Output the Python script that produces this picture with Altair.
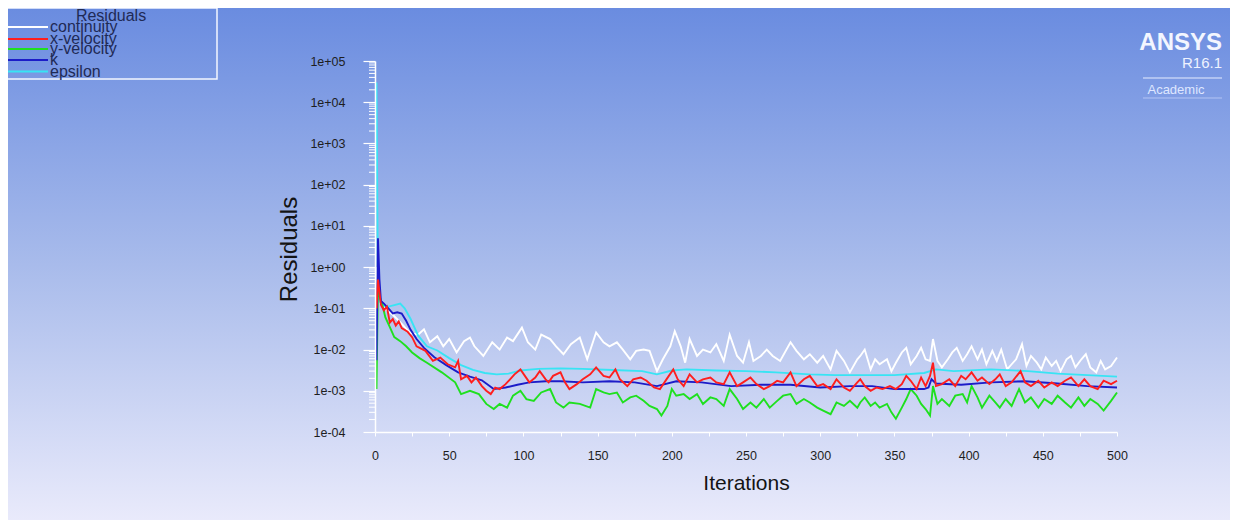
import altair as alt
import pandas as pd

# ---- residual histories: (iteration, residual) ----
continuity = [(1,1.0),(2,0.25),(4,0.12),(8,0.09),(12,0.07),(16,0.05),(20,0.035),(24,0.025),(29,0.023),(33,0.031),(37,0.015),(42,0.021),(46,0.012),(50,0.018),(55,0.0085),(60,0.016),(64,0.0195),(67,0.012),(73,0.0070),(79,0.015),(84,0.010),(89,0.0195),(93,0.016),(99,0.034),(103,0.015),(108,0.010),(112,0.023),(118,0.018),(122,0.012),(127,0.0077),(132,0.0135),(138,0.0195),(143,0.0058),(149,0.026),(154,0.015),(158,0.012),(163,0.015),(167,0.010),(172,0.0058),(176,0.0093),(181,0.010),(185,0.0093),(190,0.0030),(194,0.0058),(199,0.012),(202,0.028),(206,0.012),(209,0.0048),(212,0.018),(217,0.0070),(221,0.010),(226,0.0085),(230,0.0135),(235,0.0053),(239,0.023),(244,0.0070),(248,0.0048),(252,0.015),(255,0.0053),(260,0.0070),(264,0.010),(268,0.0070),(273,0.0053),(280,0.015),(284,0.0093),(289,0.0058),(293,0.0077),(298,0.0048),(302,0.0070),(307,0.0033),(311,0.0093),(316,0.0053),(320,0.0028),(325,0.0058),(327,0.0070),(330,0.010),(334,0.0033),(337,0.0058),(340,0.0044),(345,0.0058),(348,0.0030),(351,0.0048),(355,0.0085),(358,0.011),(361,0.0044),(365,0.0070),(368,0.011),(371,0.0058),(374,0.0053),(376,0.018),(379,0.0053),(382,0.0037),(386,0.0058),(389,0.0085),(392,0.011),(396,0.0053),(399,0.0077),(402,0.012),(406,0.0058),(409,0.010),(412,0.0044),(416,0.0093),(419,0.0053),(422,0.010),(426,0.0033),(429,0.0044),(432,0.0058),(436,0.0135),(439,0.0040),(442,0.0070),(446,0.0048),(449,0.0033),(452,0.0064),(456,0.0040),(459,0.0053),(462,0.0030),(466,0.0058),(469,0.0070),(472,0.0037),(476,0.0058),(479,0.0077),(482,0.0037),(486,0.0028),(489,0.0053),(492,0.0033),(496,0.0040),(500,0.0064)]

x_velocity = [(1,0.1),(2,0.5),(4,0.12),(6,0.09),(8,0.11),(10,0.045),(12,0.055),(14,0.038),(16,0.048),(18,0.033),(22,0.027),(25,0.02),(28,0.012),(34,0.0093),(39,0.0053),(44,0.0064),(49,0.0044),(54,0.0037),(56,0.0053),(58,0.0019),(62,0.0023),(65,0.0016),(68,0.0021),(72,0.0013),(75,0.0010),(78,0.00083),(81,0.0012),(84,0.0011),(88,0.00145),(91,0.0019),(94,0.0025),(98,0.0033),(101,0.0023),(104,0.0016),(108,0.0021),(111,0.0030),(115,0.0019),(117,0.0016),(120,0.0023),(125,0.0028),(128,0.0016),(131,0.0011),(136,0.00145),(140,0.0019),(145,0.0025),(149,0.0037),(154,0.0023),(158,0.0021),(162,0.0033),(165,0.0019),(170,0.0013),(174,0.0019),(179,0.0021),(183,0.00175),(188,0.0012),(192,0.0011),(198,0.0023),(201,0.0033),(204,0.0019),(208,0.0013),(212,0.0025),(217,0.0016),(221,0.0019),(226,0.0021),(230,0.0016),(235,0.00145),(239,0.0028),(244,0.0013),(248,0.0016),(253,0.0021),(257,0.00145),(262,0.0011),(266,0.0013),(271,0.00175),(275,0.0016),(280,0.0028),(284,0.0013),(289,0.0019),(293,0.0023),(298,0.0013),(302,0.00145),(307,0.0011),(311,0.0019),(316,0.0012),(320,0.0010),(325,0.0016),(327,0.0019),(330,0.0013),(334,0.0010),(338,0.0012),(342,0.0011),(347,0.0013),(351,0.0011),(355,0.00145),(358,0.0023),(361,0.00175),(365,0.0011),(368,0.0021),(371,0.0013),(374,0.0023),(376,0.0048),(378,0.0013),(382,0.00145),(387,0.0019),(391,0.0013),(395,0.0023),(398,0.0019),(402,0.0028),(406,0.00175),(409,0.0021),(414,0.00145),(418,0.0019),(421,0.0025),(425,0.0013),(429,0.0016),(435,0.0030),(438,0.0016),(442,0.0013),(447,0.00175),(451,0.0012),(456,0.0016),(460,0.0013),(465,0.00175),(469,0.0021),(474,0.0013),(478,0.0019),(482,0.0013),(487,0.0011),(491,0.00175),(496,0.00145),(500,0.00175)]

y_velocity = [(1,0.0011),(2,0.4),(3,0.2),(5,0.12),(7,0.06),(10,0.035),(13,0.02),(17,0.016),(21,0.012),(25,0.0085),(30,0.0062),(35,0.0048),(45,0.0028),(54,0.0016),(58,0.00083),(64,0.0010),(70,0.00083),(75,0.00048),(80,0.00036),(84,0.00048),(89,0.00039),(93,0.00076),(98,0.0010),(102,0.00063),(107,0.00057),(112,0.00091),(118,0.0011),(122,0.00052),(127,0.00039),(131,0.00052),(138,0.00048),(145,0.00039),(149,0.0011),(154,0.00091),(158,0.00083),(163,0.00091),(167,0.00052),(172,0.00069),(176,0.00076),(181,0.00057),(185,0.00043),(190,0.00036),(193,0.00025),(197,0.00043),(200,0.0011),(203,0.00076),(208,0.00083),(212,0.00063),(217,0.00083),(221,0.00048),(226,0.00069),(230,0.00063),(235,0.00043),(239,0.0011),(244,0.00063),(248,0.00036),(253,0.00052),(257,0.00039),(262,0.00063),(266,0.00039),(271,0.00057),(275,0.00076),(280,0.00083),(284,0.00048),(289,0.00063),(293,0.00052),(298,0.00039),(302,0.00033),(307,0.00027),(311,0.00052),(316,0.00043),(320,0.00057),(325,0.00039),(327,0.00052),(330,0.00069),(334,0.00043),(337,0.00052),(340,0.00039),(345,0.00048),(348,0.00030),(351,0.00021),(355,0.00039),(358,0.00063),(361,0.0011),(365,0.00076),(368,0.00048),(371,0.00036),(374,0.00025),(376,0.0013),(379,0.00048),(382,0.00063),(387,0.00043),(391,0.00076),(396,0.00083),(399,0.00052),(402,0.0013),(406,0.00069),(409,0.00039),(414,0.00076),(418,0.00052),(421,0.00039),(425,0.00063),(429,0.00043),(434,0.0011),(438,0.00052),(442,0.00069),(447,0.00039),(451,0.00063),(456,0.00048),(460,0.00076),(465,0.00052),(469,0.00039),(474,0.00069),(478,0.00043),(482,0.00063),(487,0.00048),(491,0.00033),(496,0.00057),(500,0.00091)]

k_res = [(1,0.0055),(2,5.0),(3,0.5),(4,0.15),(6,0.13),(9,0.10),(12,0.075),(15,0.08),(18,0.075),(21,0.05),(24,0.03),(28,0.018),(33,0.011),(40,0.0065),(48,0.0042),(56,0.0028),(64,0.0022),(72,0.0018),(80,0.0011),(88,0.0012),(96,0.0014),(104,0.0016),(115,0.0017),(125,0.0017),(140,0.0016),(158,0.0017),(175,0.0016),(190,0.0013),(203,0.0017),(220,0.0016),(240,0.0013),(260,0.0014),(280,0.0014),(300,0.0012),(320,0.0013),(335,0.0013),(350,0.0011),(370,0.0011),(373,0.0012),(375,0.0019),(378,0.0015),(395,0.0014),(415,0.0016),(438,0.0017),(460,0.0015),(480,0.0013),(500,0.0012)]

epsilon = [(1,3.0e4),(2,0.2),(3,0.15),(5,0.12),(9,0.11),(13,0.12),(17,0.13),(20,0.10),(24,0.055),(29,0.022),(35,0.012),(42,0.0095),(50,0.0062),(58,0.0042),(66,0.0032),(74,0.0027),(82,0.0025),(90,0.0026),(98,0.0031),(110,0.0034),(125,0.0035),(140,0.0034),(160,0.0032),(180,0.0030),(190,0.0025),(200,0.0031),(210,0.0033),(230,0.0031),(250,0.0030),(270,0.0028),(293,0.0025),(310,0.0024),(334,0.0024),(350,0.0024),(370,0.0027),(378,0.0033),(390,0.0030),(415,0.0033),(440,0.0030),(460,0.0026),(480,0.0024),(500,0.0022)]

series_names = ["continuity", "x-velocity", "y-velocity", "k", "epsilon"]
series_data = [continuity, x_velocity, y_velocity, k_res, epsilon]
series_colors = ["#ffffff", "#ff1e1e", "#1fe01f", "#1c1cc8", "#38e4f4"]
draw_order = [0, 4, 2, 3, 1]

x_ticks = list(range(0, 501, 25))
y_decades = [1e-4, 1e-3, 1e-2, 1e-1, 1e0, 1e1, 1e2, 1e3, 1e4, 1e5]
y_minor = [m * d for d in y_decades[:-1] for m in range(2, 10)]

W, H = 742, 371
PL, PT, PR, PB = 367, 53, 113, 88
FONT = "Liberation Sans"
TXT = "#1f2a55"

xs = alt.Scale(domain=[0, 500], nice=False, zero=False)
ys = alt.Scale(type="log", domain=[1e-4, 1e5], nice=False)

x_axis = alt.Axis(values=x_ticks, labelExpr="datum.value % 50 == 0 ? datum.label : ''",
                  title="Iterations", titleFontSize=21, titleFont=FONT, titleFontWeight="normal",
                  titleColor="#141414", titleX=W / 2, titleY=51, titleBaseline="middle",
                  titleAlign="center", labelFont=FONT, labelFontSize=12.5, labelColor="#1e1e1e",
                  domainColor="white", domainWidth=1.5, tickColor="white", tickSize=4,
                  labelPadding=13, grid=False, labelFlush=False, labelOverlap=False, zindex=2)
y_axis = alt.Axis(values=y_decades,
                  labelExpr="'1e' + (datum.value < 1 ? '-' : '+') + '0' + abs(round(log(datum.value) / LN10))",
                  title="Residuals", titleFontSize=24, titleFont=FONT, titleFontWeight="normal",
                  titleColor="#141414", titleAngle=270, titleX=-86, titleY=188,
                  titleBaseline="middle", titleAlign="center", labelFont=FONT, labelFontSize=12.5,
                  labelColor="#1e1e1e", domainColor="white", domainWidth=1.5, tickColor="white",
                  tickSize=12, tickWidth=1.2, labelPadding=18, grid=False, labelFlush=False,
                  labelOverlap=False, zindex=2)

one = pd.DataFrame({"a": [0]})

bg = alt.Chart(one).mark_rect(
    fill=alt.Gradient(gradient="linear", x1=0, x2=0, y1=0, y2=1,
                      stops=[alt.GradientStop(color="#6a8ce0", offset=0),
                             alt.GradientStop(color="#a8bbeb", offset=0.5),
                             alt.GradientStop(color="#e9eafb", offset=1)])
).encode(x=alt.value(-PL), x2=alt.value(W + PR), y=alt.value(-PT), y2=alt.value(H + PB))

layers = [bg]

minor = alt.Chart(pd.DataFrame({"v": y_minor})).mark_rule(color="white", strokeWidth=1).encode(
    y=alt.Y("v:Q", scale=ys, axis=y_axis), x=alt.value(-6), x2=alt.value(0))
layers.append(minor)

for i in draw_order:
    df = pd.DataFrame(series_data[i], columns=["iter", "res"])
    ln = alt.Chart(df).mark_line(color=series_colors[i], strokeWidth=1.9).encode(
        x=alt.X("iter:Q", scale=xs, axis=x_axis),
        y=alt.Y("res:Q", scale=ys, axis=y_axis),
    )
    layers.append(ln)

# legend box (top-left)
layers.append(alt.Chart(one).mark_rect(fill="transparent", stroke="#f4f6ff", strokeWidth=1.5).encode(
    x=alt.value(-368), x2=alt.value(-158), y=alt.value(-53), y2=alt.value(18)))
layers.append(alt.Chart(one).mark_text(font=FONT, fontSize=16, color=TXT, baseline="middle",
                                       align="center").encode(
    x=alt.value(-264), y=alt.value(-45), text=alt.value("Residuals")))
leg_y = [-34, -22, -12, -1, 10.5]
for i, name in enumerate(series_names):
    layers.append(alt.Chart(one).mark_rule(color=series_colors[i], strokeWidth=2).encode(
        x=alt.value(-367), x2=alt.value(-327), y=alt.value(leg_y[i])))
    layers.append(alt.Chart(one).mark_text(font=FONT, fontSize=16, color=TXT, baseline="middle",
                                           align="left").encode(
        x=alt.value(-325), y=alt.value(leg_y[i]), text=alt.value(name)))

# ANSYS badge (top-right)
layers.append(alt.Chart(one).mark_text(font=FONT, fontSize=24, fontWeight="bold", color="#f3f6ff",
                                       baseline="middle", align="right").encode(
    x=alt.value(847), y=alt.value(-18), text=alt.value("ANSYS")))
layers.append(alt.Chart(one).mark_text(font=FONT, fontSize=15, color="#eef2ff",
                                       baseline="middle", align="right").encode(
    x=alt.value(847), y=alt.value(2), text=alt.value("R16.1")))
layers.append(alt.Chart(one).mark_rule(color="#e6ecff", strokeWidth=1).encode(
    x=alt.value(768), x2=alt.value(847), y=alt.value(17)))
layers.append(alt.Chart(one).mark_text(font=FONT, fontSize=13, color="#dfe7ff",
                                       baseline="middle", align="center").encode(
    x=alt.value(801), y=alt.value(29), text=alt.value("Academic")))
layers.append(alt.Chart(one).mark_rule(color="#d6e0ff", strokeWidth=1, opacity=0.6).encode(
    x=alt.value(768), x2=alt.value(847), y=alt.value(37)))

chart = alt.layer(*layers).properties(
    width=W, height=H, autosize=alt.AutoSizeParams(type="none"),
    padding={"left": PL, "top": PT, "right": PR, "bottom": PB},
    background="white",
).configure_view(strokeWidth=0)

chart.save("out.html", embed_options={"renderer": "svg", "actions": False})
